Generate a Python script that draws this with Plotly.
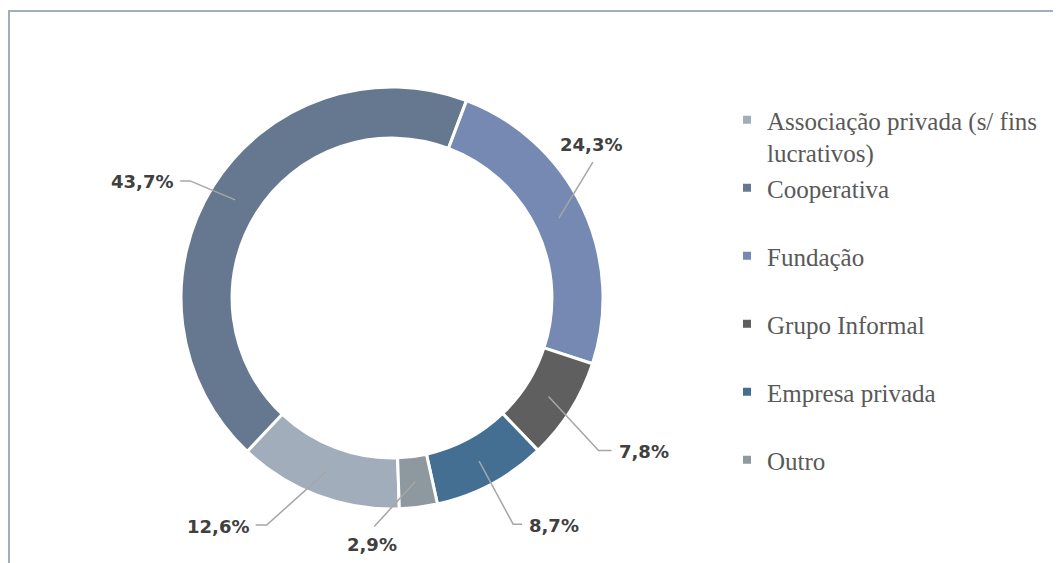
import numpy as np
import plotly.graph_objects as go

categorias = ['Associação privada (s/ fins<br>lucrativos)', 'Cooperativa', 'Fundação',
              'Grupo Informal', 'Empresa privada', 'Outro']
percentuais = [12.6, 43.7, 24.3, 7.8, 8.7, 2.9]
cores = ['#A2ADBC', '#66788F', '#7589B3', '#5F5F5F', '#446F93', '#8D999E']

rotulos = [f'{v:.1f}'.replace('.', ',') + '%' for v in percentuais]

W, H = 1061, 563
M = 8                          # margem do body da pagina html
Wf, Hf = W - M, H - M
cx, cy, R = 392, 298, 211      # centro e raio da rosca (px na pagina)
rot = 178                      # angulo do primeiro setor
r_guia = 185                   # raio onde nasce a linha de chamada

# deslocamento das linhas de chamada (dx, dy, cauda horizontal) em px
guias = [(-60, 54, -11), (-45, -19, -10), (34, -56, 0),
         (50, 54, 13), (34, 63, 9), (-41, 45, 0)]


def px2paper(x, y):
    return (x - M) / Wf, 1 - (y - M) / Hf


fig = go.Figure()
dx0, dy1 = px2paper(cx - R, cy - R)
dx1, dy0 = px2paper(cx + R, cy + R)
fig.add_trace(go.Pie(
    labels=categorias, values=percentuais, sort=False, direction='clockwise',
    rotation=rot, hole=0.758, textinfo='none', hoverinfo='label+percent',
    marker=dict(colors=cores, line=dict(color='white', width=3)),
    domain=dict(x=[dx0, dx1], y=[dy0, dy1]),
    showlegend=False,
))

vals = np.array(percentuais)
ini = rot + 360 * (np.cumsum(vals) - vals) / vals.sum()
meio = np.radians(ini + 180 * vals / vals.sum())

shapes = []
annots = []
for ang, txt, (dx, dy, cauda) in zip(meio, rotulos, guias):
    x0, y0 = cx + r_guia * np.sin(ang), cy - r_guia * np.cos(ang)
    x1, y1 = x0 + dx, y0 + dy
    x2 = x1 + cauda
    pts = [px2paper(x0, y0), px2paper(x1, y1), px2paper(x2, y1)]
    path = 'M {} {} L {} {} L {} {}'.format(*[c for p in pts for c in p])
    shapes.append(dict(type='path', path=path, xref='paper', yref='paper',
                       line=dict(color='#A6A6A6', width=1.5)))
    if cauda != 0:
        tx = x2 + (5 if cauda > 0 else -5)
        xa, ya, ty = ('left' if cauda > 0 else 'right'), 'middle', y1 + 1
    else:
        tx = x1 - 2
        xa = 'center'
        ya, ty = ('bottom', y1 - 5) if dy < 0 else ('top', y1 + 5)
    ax_, ay_ = px2paper(tx, ty)
    annots.append(dict(x=ax_, y=ay_, xref='paper', yref='paper', text=txt,
                       showarrow=False, xanchor=xa, yanchor=ya,
                       font=dict(family='DejaVu Sans', size=18, color='#404040', weight='bold')))

# moldura
fx0, fy1 = px2paper(9, 11)
shapes.append(dict(type='rect', xref='paper', yref='paper',
                   x0=fx0, x1=1.05, y0=-0.05, y1=fy1,
                   line=dict(color='#A3ADBD', width=2)))

# legenda: uma legenda por categoria para controlar o espacamento
fonte_leg = dict(family='Liberation Serif', size=25, color='#595959')
legendas = {}
for i, (nome, cor) in enumerate(zip(categorias, cores)):
    chave = 'legend' if i == 0 else f'legend{i + 1}'
    fig.add_trace(go.Scatter(x=[None], y=[None], mode='markers', name=nome,
                             marker=dict(symbol='square', size=8, color=cor),
                             legend=chave, hoverinfo='skip'))
    yc = 121 + 68 * i
    lx, ly = px2paper(727, yc - 24)
    legendas[chave] = dict(x=lx, y=ly, xanchor='left', yanchor='top',
                           valign='top', font=fonte_leg, bgcolor='rgba(0,0,0,0)',
                           borderwidth=0, itemwidth=30)

fig.update_layout(
    width=Wf, height=Hf, margin=dict(l=0, r=0, t=0, b=0),
    paper_bgcolor='white', plot_bgcolor='white',
    xaxis=dict(visible=False), yaxis=dict(visible=False),
    shapes=shapes, annotations=annots, **legendas,
)

fig.write_html('out.html')
